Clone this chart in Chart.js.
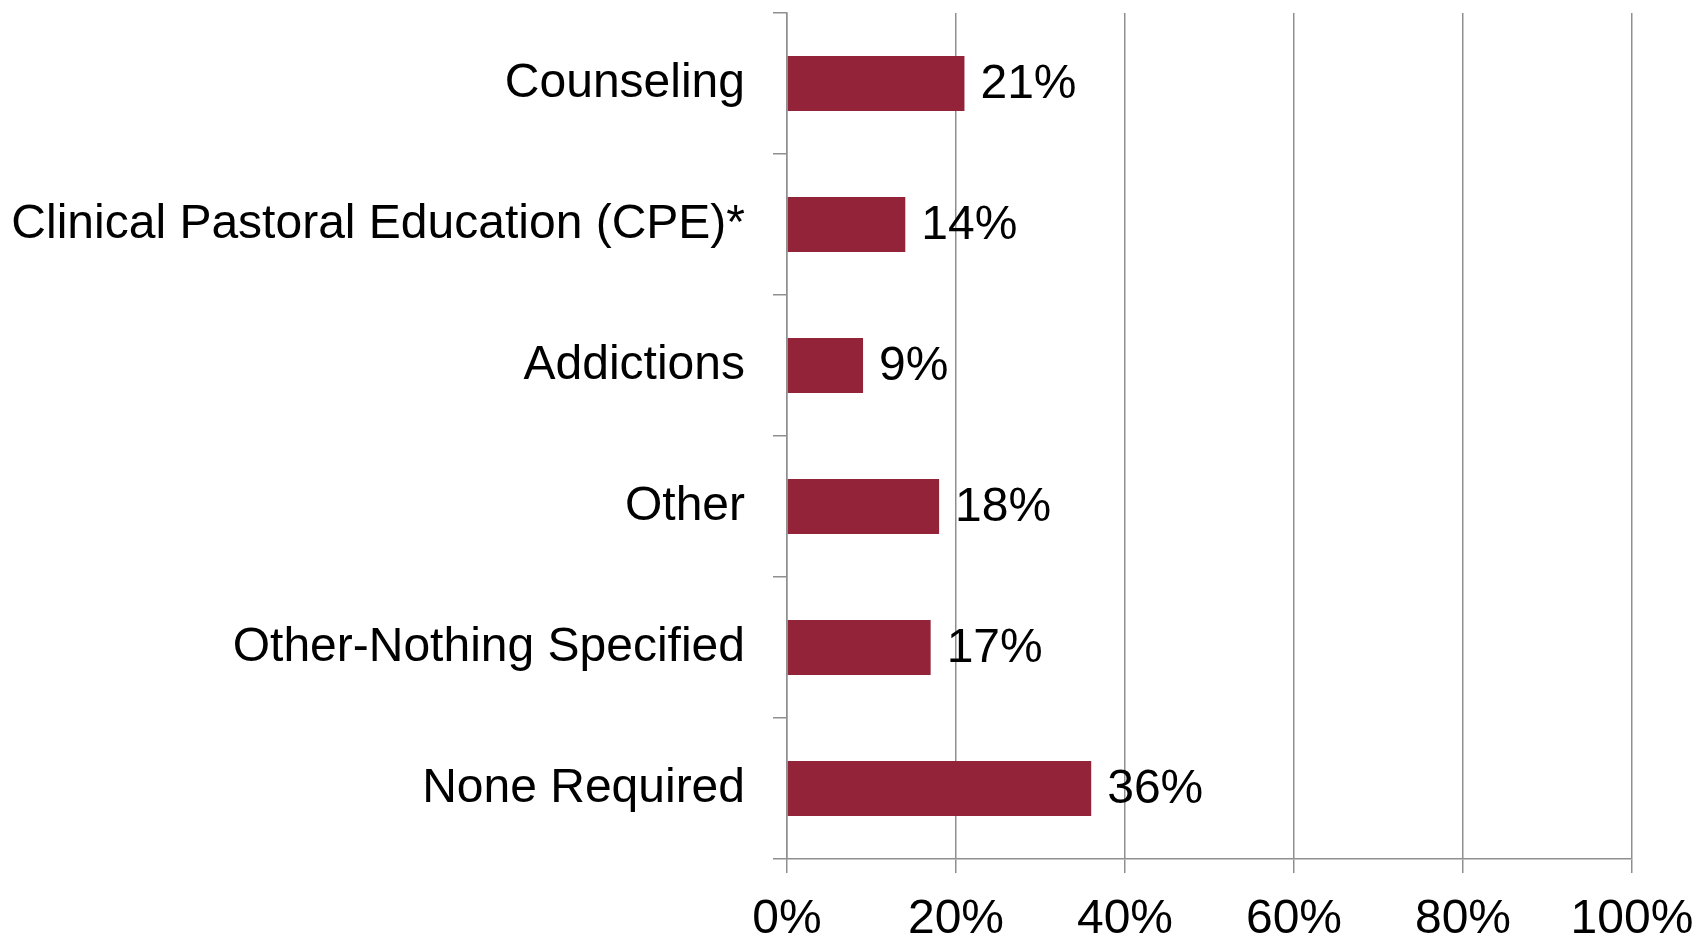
<!DOCTYPE html>
<html>
<head>
<meta charset="utf-8">
<script src="https://cdn.jsdelivr.net/npm/chart.js@4"></script>
<style>
  html, body { margin: 0; padding: 0; background: #fff; }
  #wrap { width: 1698px; height: 939px; }
</style>
</head>
<body>
<div id="wrap"><canvas id="chart" width="1698" height="939"></canvas></div>
<script>
  // Data
  const categories = ['Counseling', 'Clinical Pastoral Education (CPE)*', 'Addictions', 'Other', 'Other-Nothing Specified', 'None Required'];
  const percentValues = [21, 14, 9, 18, 17, 36];
  const xTicks = [0, 20, 40, 60, 80, 100];

  const FONT = "'Liberation Sans', Arial, sans-serif";
  const GRID = '#8f8f8f';

  // Draw value labels to the right of each bar
  const valueLabels = {
    id: 'valueLabels',
    afterDatasetsDraw(chart) {
      const ctx = chart.ctx;
      const meta = chart.getDatasetMeta(0);
      ctx.save();
      ctx.font = '48px ' + FONT;
      ctx.fillStyle = '#000';
      ctx.textAlign = 'left';
      ctx.textBaseline = 'middle';
      meta.data.forEach((bar, i) => {
        ctx.fillText(percentValues[i] + '%', bar.x + 16, bar.y + 1);
      });
      ctx.restore();
    }
  };

  new Chart(document.getElementById('chart').getContext('2d'), {
    type: 'bar',
    data: {
      labels: categories,
      datasets: [{
        data: percentValues,
        backgroundColor: '#922339',
        borderWidth: 0,
        barPercentage: 0.39,
        categoryPercentage: 1,
      }],
    },
    options: {
      indexAxis: 'y',
      responsive: false,
      animation: false,
      layout: { padding: { top: 13, right: 66, left: 0, bottom: 0 } },
      plugins: { legend: { display: false }, tooltip: { enabled: false } },
      scales: {
        x: {
          min: 0,
          max: 100,
          afterBuildTicks(scale) {
            scale.ticks = xTicks.map(v => ({ value: v }));
          },
          afterFit(scale) {
            scale.height = 80;
            scale.paddingLeft = 0;
            scale.paddingRight = 0;
          },
          grid: { color: GRID, lineWidth: 1.5, tickLength: 14, drawTicks: true },
          border: { color: GRID, width: 1.5 },
          ticks: {
            color: '#000',
            font: { family: FONT, size: 48 },
            padding: 18,
            maxRotation: 0,
            callback: v => v + '%',
          },
        },
        y: {
          afterFit(scale) {
            scale.width = 787;
            scale.paddingTop = 0;
            scale.paddingBottom = 0;
          },
          grid: { drawOnChartArea: false, color: GRID, lineWidth: 1.5, tickLength: 14, offset: true },
          border: { color: GRID, width: 1.5 },
          ticks: {
            color: '#000',
            font: { family: FONT, size: 48 },
            padding: 28,
          },
        },
      },
    },
    plugins: [valueLabels],
  });
</script>
</body>
</html>
